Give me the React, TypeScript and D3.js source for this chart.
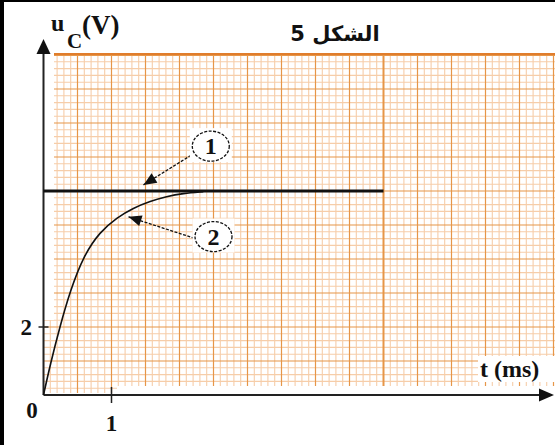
import React from 'react';
import * as d3 from 'd3';

const curveT = [0, 0.1, 0.24, 0.39, 0.59, 0.83, 1.08, 1.32, 1.57, 1.81, 2.05, 2.35];
const curveU = [0, 0.9, 2.0, 3.05, 4.1, 4.8, 5.22, 5.5, 5.7, 5.84, 5.93, 5.98];
// courbe (1) : tension constante
const stepT = [0, 5];
const stepU = [6, 6];
const xTickValues = [1];
const yTickValues = [2];

// annotations (t, u) : centre du cercle, depart et pointe de la fleche
const labels = [
  { text: '1', cx: 2.46, cy: 7.32, fromT: 2.17, fromU: 7.05, toT: 1.47, toU: 6.18 },
  { text: '2', cx: 2.5, cy: 4.66, fromT: 2.22, fromU: 4.61, toT: 1.25, toU: 5.24 },
];

const W = 555, H = 445;
const x = d3.scaleLinear().domain([0, 7.5]).range([43.5, 553.5]);
const y = d3.scaleLinear().domain([0, 10]).range([395, 55]);

const serif = '"Liberation Serif", "Times New Roman", serif';

export default function App() {
  const curvePts: [number, number][] = curveT.map((t, i) => [t, curveU[i]]);
  const stepPts: [number, number][] = stepT.map((t, i) => [t, stepU[i]]);
  const line = d3.line<[number, number]>().x(d => x(d[0])).y(d => y(d[1]));
  const smooth = d3.line<[number, number]>().x(d => x(d[0])).y(d => y(d[1])).curve(d3.curveBasis);

  // papier millimetre : 5 petits carreaux par grand carreau
  const vLines = d3.range(0, 76).map(i => ({ v: i / 10, major: i % 5 === 0, thick: i === 50 }));
  const hLines = d3.range(0, 51).map(i => ({ v: i / 5, major: i % 5 === 0, thick: i === 50 }));

  const arrowHead = (x0: number, y0: number, x1: number, y1: number) => {
    const a = Math.atan2(y1 - y0, x1 - x0);
    const len = 13, half = 5.5;
    const bx = x1 - len * Math.cos(a), by = y1 - len * Math.sin(a);
    const px = -Math.sin(a) * half, py = Math.cos(a) * half;
    return `${x1},${y1} ${bx + px},${by + py} ${bx - px},${by - py}`;
  };

  return (
    <svg width={W} height={H} style={{ position: 'absolute', left: 0, top: 0, background: '#fff' }}>
      <defs>
        <clipPath id="paper">
          <rect x={54} y={53} width={W - 54} height={386 - 53} />
          <rect x={43} y={320} width={117 - 43} height={393 - 320} />
        </clipPath>
      </defs>

      <g clipPath="url(#paper)">
        {vLines.filter(d => !d.major).map(d => (
          <line key={'vm' + d.v} x1={x(d.v)} x2={x(d.v)} y1={40} y2={400} stroke="#f6cda9" strokeWidth={1.1} />
        ))}
        {hLines.filter(d => !d.major).map(d => (
          <line key={'hm' + d.v} y1={y(d.v)} y2={y(d.v)} x1={40} x2={W} stroke="#f6cda9" strokeWidth={1.1} />
        ))}
        {vLines.filter(d => d.major).map(d => (
          <line key={'vM' + d.v} x1={x(d.v)} x2={x(d.v)} y1={40} y2={400} stroke="#e69648" strokeWidth={d.thick ? 2 : 1.2} />
        ))}
        {hLines.filter(d => d.major).map(d => (
          <line key={'hM' + d.v} y1={y(d.v)} y2={y(d.v)} x1={40} x2={W} stroke="#e69648" strokeWidth={d.thick ? 2.2 : 1.2} />
        ))}
      </g>
      <line x1={54} x2={W} y1={54} y2={54} stroke="#e07d2c" strokeWidth={2} />

      {/* axes */}
      <line x1={x(0)} x2={x(0)} y1={y(0)} y2={50} stroke="#222" strokeWidth={2} />
      <polygon points={`${x(0)},39 ${x(0) - 7},54 ${x(0) + 7},54`} fill="#111" />
      <line x1={x(0)} x2={541} y1={y(0)} y2={y(0)} stroke="#222" strokeWidth={2} />
      <polygon points={`554,${y(0)} 539,${y(0) - 6.5} 539,${y(0) + 6.5}`} fill="#111" />

      {xTickValues.map(v => (
        <g key={'xt' + v}>
          <line x1={x(v)} x2={x(v)} y1={y(0) - 8} y2={y(0) + 8} stroke="#222" strokeWidth={1.5} />
          <text x={x(v)} y={431} textAnchor="middle" fontFamily={serif} fontWeight="bold" fontSize={23} fill="#111">{v}</text>
        </g>
      ))}
      {yTickValues.map(v => (
        <g key={'yt' + v}>
          <line x1={x(0) - 5} x2={x(0) + 5} y1={y(v)} y2={y(v)} stroke="#222" strokeWidth={1.5} />
          <text x={32} y={y(v) + 8} textAnchor="end" fontFamily={serif} fontWeight="bold" fontSize={23} fill="#111">{v}</text>
        </g>
      ))}
      <text x={32} y={418} textAnchor="middle" fontFamily={serif} fontWeight="bold" fontSize={23} fill="#111">0</text>

      {/* courbes */}
      <path d={line(stepPts) ?? ''} fill="none" stroke="#111" strokeWidth={3} />
      <path d={smooth(curvePts) ?? ''} fill="none" stroke="#111" strokeWidth={1.6} />

      {/* reperes */}
      {labels.map(l => {
        const x0 = x(l.fromT), y0 = y(l.fromU), x1 = x(l.toT), y1 = y(l.toU);
        return (
          <g key={'lab' + l.text}>
            <line x1={x0} y1={y0} x2={x1} y2={y1} stroke="#111" strokeWidth={1.3} strokeDasharray="3,1.5" />
            <polygon points={arrowHead(x0, y0, x1, y1)} fill="#111" />
            <rect x={x(l.cx) - 21} y={y(l.cy) - 18} width={42} height={34} fill="#fff" />
            <ellipse cx={x(l.cx)} cy={y(l.cy)} rx={18.5} ry={15} fill="#fff" stroke="#111" strokeWidth={1.3} strokeDasharray="3,1.5" />
            <text x={x(l.cx)} y={y(l.cy) + 8} textAnchor="middle" fontFamily={serif} fontWeight="bold" fontSize={24} fill="#111">{l.text}</text>
          </g>
        );
      })}

      {/* titres */}
      <text x={51} y={31} fontFamily={serif} fontWeight="bold" fontSize={24} fill="#111">u</text>
      <text x={67} y={48} fontFamily={serif} fontWeight="bold" fontSize={21} fill="#111">C</text>
      <text x={82} y={34} fontFamily={serif} fontWeight="bold" fontSize={27} fill="#111">(V)</text>
      <text x={335} y={41} textAnchor="middle" direction="rtl" fontFamily='"DejaVu Sans", sans-serif' fontWeight="bold" fontSize={21} fill="#111">الشكل 5</text>
      <rect x={478} y={356} width={W - 478} height={26} fill="#fff" />
      <text x={480} y={377} fontFamily={serif} fontWeight="bold" fontSize={24} fill="#111">t (ms)</text>

      {/* cadre */}
      <rect x={0} y={0} width={4} height={H} fill="#000" />
      <rect x={0} y={0} width={W} height={2} fill="#000" />
    </svg>
  );
}
